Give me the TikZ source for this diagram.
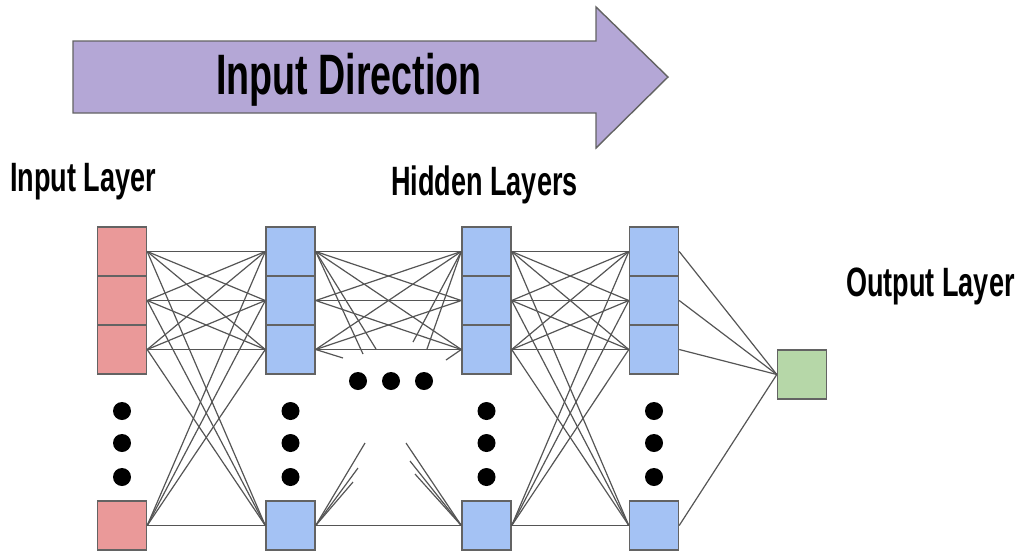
\documentclass[tikz,border=0pt]{standalone}
\usepackage{fontspec}
\setmainfont[FakeStretch=0.66]{Liberation Sans}
\definecolor{arrowpurple}{HTML}{B4A7D6}
\definecolor{inred}{HTML}{EA9999}
\definecolor{hidblue}{HTML}{A4C2F4}
\definecolor{outgreen}{HTML}{B6D7A8}
\definecolor{cellline}{HTML}{636363}
\definecolor{linegray}{HTML}{555555}

\begin{document}
\begin{tikzpicture}[x=1pt,y=-1pt]
\tikzstyle{every node}+=[inner sep=0pt]
\tikzstyle{cell}=[draw=cellline, line width=1.4pt, minimum width=49pt, minimum height=49pt]
\tikzstyle{incell}=[cell, fill=inred]
\tikzstyle{hidcell}=[cell, fill=hidblue]
\tikzstyle{outcell}=[cell, fill=outgreen]
\tikzstyle{dot}=[circle, fill=black, minimum size=18pt]
\tikzstyle{link}=[draw=linegray, line width=1.2pt]
\tikzstyle{layerlabel}=[anchor=base west, font=\fontsize{41}{45}\selectfont\bfseries]
\useasboundingbox (0,0) rectangle (1024,550);
\clip (0,0) rectangle (1024,550);
\draw [draw=cellline, line width=1.4pt, fill=arrowpurple] (73,41) -- (596,41) -- (596,7) -- (668,77) -- (596,148) -- (596,113) -- (73,113) -- cycle;
\node [anchor=base west, font=\fontsize{57}{62}\selectfont\bfseries] (title) at (216,94) {Input Direction};
\node [layerlabel] (inlabel) at (10,191) {Input Layer};
\node [layerlabel] (hidlabel) at (391,195) {Hidden Layers};
\node [layerlabel] (outlabel) at (846,296) {Output Layer};
\foreach \n/\y in {1/251.5,2/300.5,3/349.5,4/525.5} {
  \node [incell] (in\n) at (122,\y) {};
  \node [hidcell] (ha\n) at (290.5,\y) {};
  \node [hidcell] (hb\n) at (486.5,\y) {};
  \node [hidcell] (hc\n) at (654,\y) {};
}
\node [outcell] (out) at (802,374.5) {};
\foreach \i in {1,...,4}
  \foreach \j in {1,...,4} {
    \draw [link] (in\i.east) -- (ha\j.west);
    \draw [link] (hb\i.east) -- (hc\j.west);
  }
\foreach \i in {1,2,3}
  \foreach \j in {1,2,3}
    \draw [link] (ha\i.east) -- (hb\j.west);
\draw [link] (ha4.east) -- (hb4.west);
\foreach \i in {1,...,4}
  \draw [link] (hc\i.east) -- (out.west);
\coordinate (pa1) at (363,354);
\coordinate (pa2) at (376,349);
\coordinate (pa3) at (343,358);
\coordinate (pb1) at (413,342);
\coordinate (pb2) at (427,349);
\coordinate (pb3) at (446,360);
\coordinate (qa1) at (365,443);
\coordinate (qa2) at (358,468);
\coordinate (qa3) at (353,482);
\coordinate (qb1) at (406,443);
\coordinate (qb2) at (410,461);
\coordinate (qb3) at (415,474);
\draw [link] (ha1.east) -- (pa1);
\draw [link] (ha1.east) -- (pa2);
\draw [link] (ha3.east) -- (pa3);
\draw [link] (hb1.west) -- (pb1);
\draw [link] (hb1.west) -- (pb2);
\draw [link] (hb3.west) -- (pb3);
\foreach \k in {1,2,3} {
  \draw [link] (ha4.east) -- (qa\k);
  \draw [link] (hb4.west) -- (qb\k);
}
\foreach \x [count=\c] in {122,290.5,486.5,654}
  \foreach \y [count=\r] in {411,443,477}
    \node [dot] (dot\c\r) at (\x,\y) {};
\foreach \x [count=\c] in {358,391,424}
  \node [dot] (mdot\c) at (\x,381) {};
\end{tikzpicture}
\end{document}
